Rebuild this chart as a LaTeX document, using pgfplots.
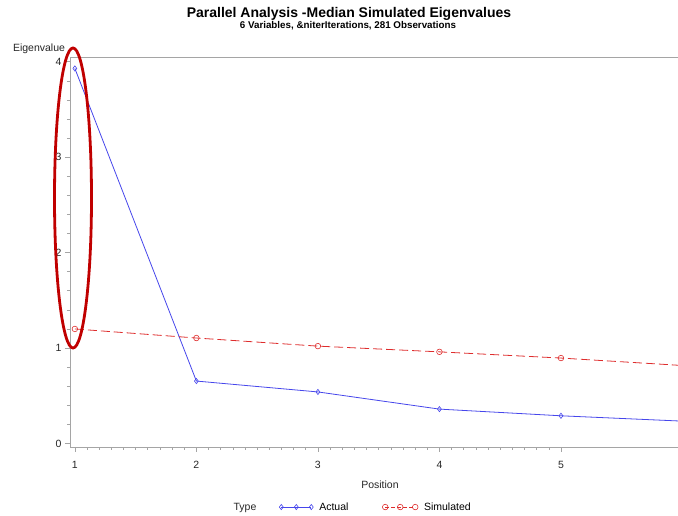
\documentclass[border=0pt]{standalone}
\usepackage{fontspec}
\setmainfont{Liberation Sans}
\usepackage{pgfplots}
\pgfplotsset{compat=1.18}
\definecolor{actual}{RGB}{70,70,235}
\definecolor{sim}{RGB}{222,45,45}
\definecolor{ell}{RGB}{192,0,0}
\definecolor{axgray}{RGB}{165,165,165}
\begin{document}
\begin{tikzpicture}[x=1pt,y=1pt]
\path[use as bounding box] (0,0) rectangle (678,516);
\begin{axis}[
  at={(70pt,69pt)}, anchor=south west,
  scale only axis, width=608pt, height=390pt,
  xmin=0.96, xmax=5.963, ymin=-0.037, ymax=4.05,
  axis lines*=left,
  axis line style={axgray, line width=0.8pt},
  xtick={1,2,3,4,5}, ytick={0,1,2,3,4},
  minor x tick num=9, minor y tick num=4,
  tick align=outside,
  major tick length=5pt, minor tick length=3pt,
  tick style={axgray, line width=0.6pt},
  ticklabel style={font=\fontsize{10.5}{12}\selectfont, text=black!85},
  xticklabel style={yshift=-6pt},
  /pgf/number format/assume math mode=true,
  clip=false,
  legend style={at={(axis description cs:0.344,-0.154)}, anchor=west, draw=none, fill=none,
    inner sep=0pt, font=\fontsize{10.5}{12}\selectfont,
    /tikz/every odd column/.append style={column sep=4pt},
    /tikz/every even column/.append style={column sep=32pt}},
  legend columns=2,
  legend image code/.code={\draw[#1] plot coordinates {(0pt,0pt) (15pt,0pt) (30pt,0pt)};},
]
\addplot[actual, line width=0.8pt, mark=diamond, mark size=2.6pt, mark options={solid, line width=0.6pt}]
  coordinates {(1,3.93) (2,0.654) (3,0.54) (4,0.36) (5,0.29) (6,0.234)};
\addlegendentry{Actual}
\addplot[sim, line width=0.8pt, dash pattern=on 9pt off 4pt, mark=o, mark size=2.8pt, mark options={solid, line width=0.6pt},
  legend image post style={dash pattern=on 4pt off 2pt}]
  coordinates {(1,1.2) (2,1.105) (3,1.02) (4,0.96) (5,0.895) (6,0.817)};
\addlegendentry{Simulated}
\draw[axgray, line width=0.8pt] (rel axis cs:0,1) -- (rel axis cs:1,1);
\end{axis}
\draw[ell, line width=2.8pt] (73,318) ellipse [x radius=18.5pt, y radius=150pt];
\node[font=\bfseries\fontsize{14}{16}\selectfont, anchor=base] at (349,498) {Parallel Analysis -Median Simulated Eigenvalues};
\node[font=\bfseries\fontsize{9.8}{11}\selectfont, anchor=base] at (348,487) {6 Variables, \&niterIterations, 281 Observations};
\node[font=\fontsize{10.5}{12}\selectfont, anchor=base, text=black!85] at (39,464) {Eigenvalue};
\node[font=\fontsize{10.5}{12}\selectfont, anchor=base, text=black!85] at (380,27) {Position};
\node[font=\fontsize{10.5}{12}\selectfont, anchor=base, text=black!85] at (245,5) {Type};
\end{tikzpicture}
\end{document}
